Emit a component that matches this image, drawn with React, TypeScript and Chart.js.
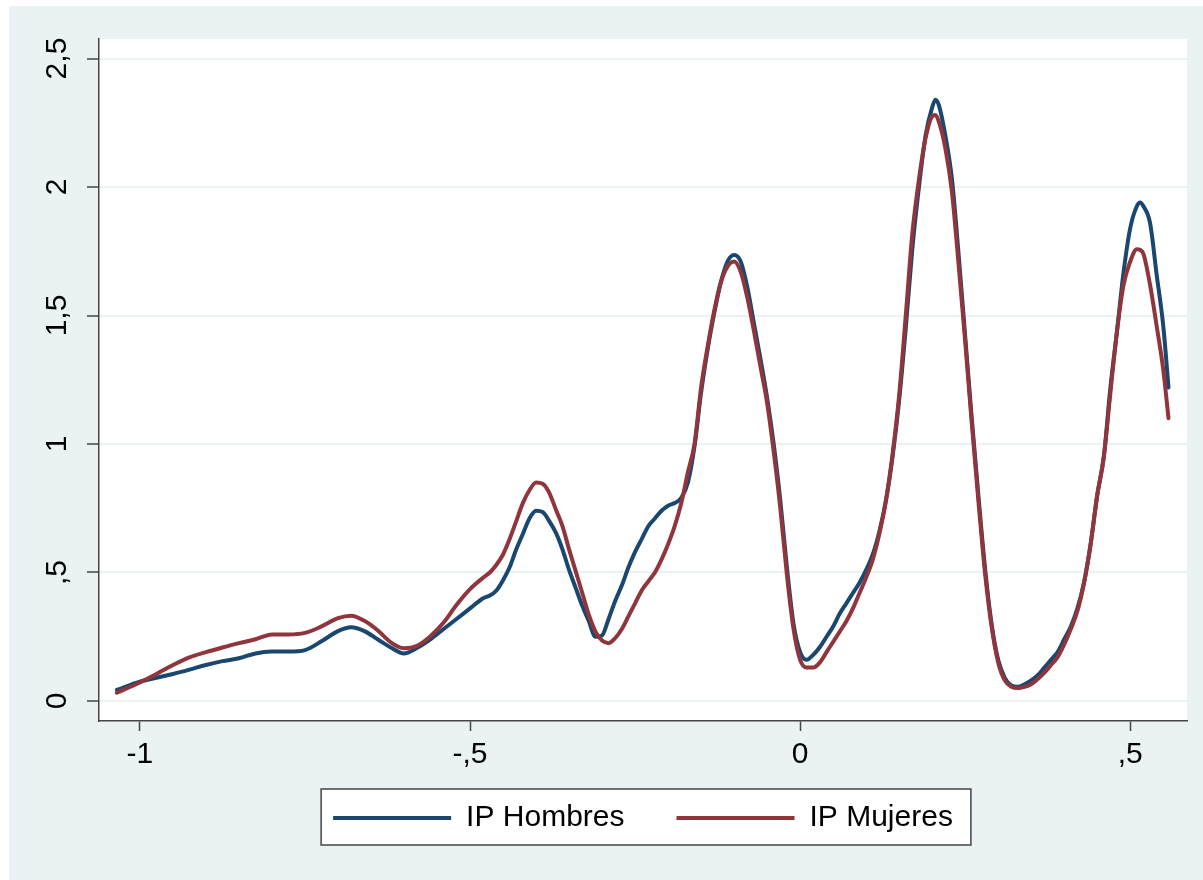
import React, { useEffect, useRef } from 'react';
import { Chart, registerables } from 'chart.js';

Chart.register(...registerables);

const FONT = "'Liberation Sans', Arial, sans-serif";

const seriesNames = ['IP Hombres', 'IP Mujeres'];
const seriesColors = ['#1A476F', '#90353B'];

const xValues = [
  -1.035, -1.0, -0.975, -0.95, -0.925, -0.9, -0.875, -0.85, -0.825, -0.8, -0.775, -0.75, -0.725, -0.7, -0.68, -0.66, -0.64, -0.62, -0.6, -0.58, -0.56, -0.54, -0.52, -0.5,
  -0.48, -0.47, -0.46, -0.45, -0.44, -0.43, -0.42, -0.41, -0.4, -0.39, -0.38, -0.37, -0.36, -0.35, -0.34, -0.33, -0.32, -0.31, -0.3, -0.29, -0.28, -0.27, -0.26, -0.25, -0.24, -0.23, -0.22, -0.21, -0.2, -0.19, -0.18, -0.17,
  -0.16, -0.15, -0.14, -0.13, -0.12, -0.11, -0.1, -0.09, -0.08, -0.07, -0.06, -0.05, -0.04, -0.03, -0.02, -0.01, 0, 0.01, 0.02,
  0.03, 0.04, 0.05, 0.06, 0.07, 0.08, 0.09, 0.1, 0.11, 0.12,
  0.13, 0.14, 0.15, 0.16, 0.17, 0.18, 0.19, 0.2, 0.205, 0.21, 0.22, 0.23, 0.24, 0.25, 0.26, 0.27, 0.28, 0.29, 0.3, 0.31, 0.32, 0.33, 0.34,
  0.35, 0.36, 0.37, 0.38, 0.39, 0.4, 0.41, 0.42, 0.43, 0.44, 0.45,
  0.46, 0.47, 0.48, 0.49, 0.5, 0.51, 0.515, 0.52, 0.53, 0.54, 0.55, 0.558,
];

const ipHombres = [
  0.043, 0.075, 0.09, 0.105, 0.122, 0.14, 0.155, 0.166, 0.185, 0.192, 0.192, 0.198, 0.232, 0.272, 0.287, 0.272, 0.24, 0.208, 0.185, 0.207, 0.24, 0.28, 0.32, 0.36,
  0.4, 0.41, 0.43, 0.47, 0.52, 0.59, 0.65, 0.71, 0.74, 0.735, 0.7, 0.655, 0.59, 0.51, 0.44, 0.37, 0.31, 0.25, 0.255, 0.32, 0.39, 0.45, 0.52, 0.58, 0.63, 0.68, 0.71, 0.74, 0.76, 0.77, 0.79, 0.85,
  0.99, 1.2, 1.37, 1.51, 1.63, 1.71, 1.735, 1.71, 1.61, 1.47, 1.33, 1.18, 1.0, 0.78, 0.52, 0.3, 0.19, 0.16, 0.18,
  0.21, 0.25, 0.29, 0.34, 0.38, 0.42, 0.46, 0.51, 0.57, 0.66,
  0.78, 0.95, 1.17, 1.45, 1.76, 2.0, 2.2, 2.31, 2.34, 2.32, 2.2, 2.03, 1.74, 1.42, 1.1, 0.8, 0.52, 0.3, 0.16, 0.09, 0.06, 0.055, 0.065,
  0.08, 0.1, 0.13, 0.16, 0.19, 0.24, 0.29, 0.36, 0.46, 0.61, 0.8,
  0.95, 1.22, 1.44, 1.67, 1.84, 1.925, 1.94, 1.925, 1.86, 1.66, 1.46, 1.22,
];

const ipMujeres = [
  0.032, 0.072, 0.105, 0.14, 0.17, 0.19, 0.208, 0.225, 0.24, 0.259, 0.259, 0.265, 0.29, 0.322, 0.332, 0.312, 0.275, 0.228, 0.205, 0.215, 0.252, 0.305, 0.375, 0.435,
  0.48, 0.5, 0.53, 0.57, 0.63, 0.7, 0.77, 0.82, 0.85, 0.845, 0.81, 0.745, 0.68, 0.59, 0.505, 0.42, 0.335, 0.27, 0.235, 0.225, 0.245, 0.28, 0.33, 0.38, 0.43, 0.465, 0.5, 0.55, 0.61, 0.68, 0.77, 0.89,
  1.0, 1.22, 1.38, 1.52, 1.63, 1.69, 1.71, 1.67, 1.57, 1.44, 1.3, 1.16, 0.97, 0.75, 0.49, 0.28, 0.16, 0.13, 0.13,
  0.15, 0.19, 0.23, 0.27, 0.31, 0.36, 0.42, 0.48, 0.55, 0.65,
  0.78, 0.96, 1.19, 1.5, 1.82, 2.03, 2.19, 2.275, 2.28, 2.255, 2.15, 1.98, 1.7, 1.4, 1.08, 0.78, 0.5, 0.29, 0.15, 0.08, 0.055, 0.05, 0.055,
  0.065, 0.085, 0.11, 0.14, 0.17, 0.22, 0.28, 0.35, 0.46, 0.61, 0.8,
  0.95, 1.2, 1.44, 1.62, 1.71, 1.758, 1.755, 1.74, 1.62, 1.46, 1.29, 1.1,
];

const xTickValues = [-1, -0.5, 0, 0.5];
const xTickLabels = ['-1', '-,5', '0', ',5'];
const yTickValues = [0, 0.5, 1, 1.5, 2, 2.5];
const yTickLabels = ['0', ',5', '1', '1,5', '2', '2,5'];

const xMin = -1.062;
const xMax = 0.586;
const yMin = -0.078;
const yMax = 2.576;

const BG = '#EAF2F3';
const AXIS = '#444444';

const stataBackground = {
  id: 'stataBackground',
  beforeDraw(chart: any) {
    const { ctx, chartArea: a } = chart;
    ctx.save();
    ctx.fillStyle = BG;
    ctx.fillRect(0, 0, chart.width, chart.height);
    ctx.fillStyle = '#FFFFFF';
    ctx.fillRect(a.left, a.top, a.right - a.left, a.bottom - a.top);
    const lg = chart.legend;
    if (lg && lg.legendHitBoxes && lg.legendHitBoxes.length) {
      const hb = lg.legendHitBoxes;
      const first = hb[0];
      const last = hb[hb.length - 1];
      const l = first.left - 12;
      const r = last.left + last.width + 18;
      const t = first.top - 14;
      const b = first.top + first.height + 12;
      ctx.fillStyle = '#FFFFFF';
      ctx.fillRect(l, t, r - l, b - t);
      ctx.strokeStyle = AXIS;
      ctx.lineWidth = 1.5;
      ctx.strokeRect(l, t, r - l, b - t);
    }
    ctx.restore();
  },
};

export default function App() {
  const ref = useRef<HTMLCanvasElement>(null);

  useEffect(() => {
    if (!ref.current) return;
    const makeData = (vals: number[]) => xValues.map((x, i) => ({ x, y: vals[i] }));
    const chart = new Chart(ref.current, {
      type: 'line',
      data: {
        datasets: [
          {
            label: seriesNames[0],
            data: makeData(ipHombres),
            borderColor: seriesColors[0],
            backgroundColor: seriesColors[0],
            borderWidth: 4,
            pointRadius: 0,
            fill: false,
            cubicInterpolationMode: 'monotone',
            borderCapStyle: 'round',
            borderJoinStyle: 'round',
            order: 2,
          },
          {
            label: seriesNames[1],
            data: makeData(ipMujeres),
            borderColor: seriesColors[1],
            backgroundColor: seriesColors[1],
            borderWidth: 4,
            pointRadius: 0,
            fill: false,
            cubicInterpolationMode: 'monotone',
            borderCapStyle: 'round',
            borderJoinStyle: 'round',
            order: 1,
          },
        ],
      },
      options: {
        responsive: false,
        animation: false,
        events: [],
        layout: { padding: { left: 0, right: 16, top: 33, bottom: 37 } },
        plugins: {
          legend: {
            position: 'bottom',
            fullSize: false,
            labels: {
              sort: (a: any, b: any) => a.datasetIndex - b.datasetIndex,
              usePointStyle: true,
              pointStyle: 'line',
              pointStyleWidth: 118,
              padding: 52,
              color: '#000000',
              font: { family: FONT, size: 30 },
            },
          },
          tooltip: { enabled: false },
        },
        scales: {
          x: {
            type: 'linear',
            min: xMin,
            max: xMax,
            afterBuildTicks: (s: any) => {
              s.ticks = xTickValues.map((v) => ({ value: v }));
            },
            afterFit: (s: any) => {
              s.height = 30;
              s._computeLabelArea = () => undefined;
            },
            ticks: {
              autoSkip: false,
              minRotation: 0,
              maxRotation: 0,
              padding: 6,
              color: '#000000',
              font: { family: FONT, size: 30 },
              callback: (v: any) => {
                const i = xTickValues.indexOf(Number(v));
                return i >= 0 ? xTickLabels[i] : '';
              },
            },
            grid: {
              drawOnChartArea: false,
              drawTicks: true,
              tickLength: 10,
              tickColor: AXIS,
              tickWidth: 1.5,
            },
            border: { display: true, color: AXIS, width: 1.5 },
          },
          y: {
            type: 'linear',
            min: yMin,
            max: yMax,
            afterBuildTicks: (s: any) => {
              s.ticks = yTickValues.map((v) => ({ value: v }));
            },
            afterFit: (s: any) => {
              s.width = 90;
            },
            ticks: {
              autoSkip: false,
              minRotation: 90,
              maxRotation: 90,
              crossAlign: 'center',
              padding: 8,
              color: '#000000',
              font: { family: FONT, size: 30 },
              callback: (v: any) => {
                const i = yTickValues.indexOf(Number(v));
                return i >= 0 ? yTickLabels[i] : '';
              },
            },
            grid: {
              color: BG,
              lineWidth: 2,
              drawTicks: true,
              tickLength: 12,
              tickColor: AXIS,
              tickWidth: 1.5,
            },
            border: { display: true, color: AXIS, width: 1.5 },
          },
        },
      },
      plugins: [stataBackground],
    } as any);
    return () => chart.destroy();
  }, []);

  return (
    <div
      style={{
        position: 'fixed',
        left: 9,
        top: 6,
        width: 1194,
        height: 874,
        background: BG,
      }}
    >
      <canvas ref={ref} width={1194} height={874} style={{ display: 'block', width: 1194, height: 874 }} />
    </div>
  );
}
